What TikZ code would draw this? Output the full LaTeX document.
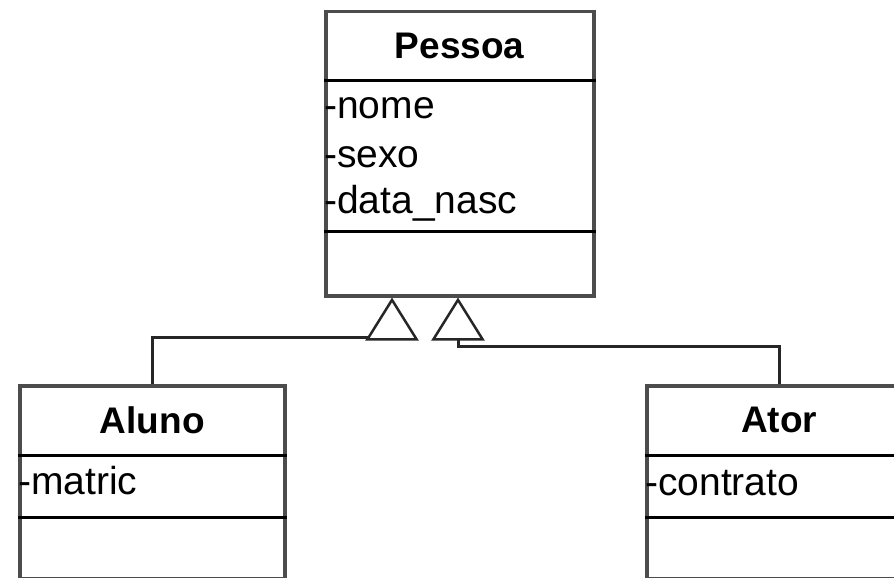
\documentclass[tikz,border=0pt]{standalone}
\usepackage{fontspec}
\setmainfont{Liberation Sans}
\usetikzlibrary{arrows.meta}

\tikzset{
  classe/.style={draw=black!70, line width=3.5pt, inner sep=0pt, anchor=north west},
  divisao/.style={draw=black, line width=3pt},
  titulo/.style={font=\fontsize{37}{40}\selectfont\bfseries, inner sep=0pt},
  atrib/.style={font=\fontsize{39}{42}\selectfont, inner sep=0pt, anchor=base west},
  heranca/.style={draw=black!85, line width=3pt, -{Triangle[fill=white, width=53pt, length=43pt, line width=2.5pt]}}
}

\begin{document}
\begin{tikzpicture}[x=1pt, y=-1pt]
	\useasboundingbox (0,0) rectangle (894,578);
	\clip (0,0) rectangle (894,578);

	% classes
	\node[classe, minimum width=268pt, minimum height=284pt] (pessoa) at (324,10)  {};
	\node[classe, minimum width=265pt, minimum height=193pt] (aluno)  at (18,384)  {};
	\node[classe, minimum width=265pt, minimum height=193pt] (ator)   at (645,384) {};

	\draw[divisao] ([yshift=-70pt]pessoa.north west)  -- ([yshift=-70pt]pessoa.north east);
	\draw[divisao] ([yshift=-221pt]pessoa.north west) -- ([yshift=-221pt]pessoa.north east);
	\draw[divisao] ([yshift=-71pt]aluno.north west)   -- ([yshift=-71pt]aluno.north east);
	\draw[divisao] ([yshift=-133pt]aluno.north west)  -- ([yshift=-133pt]aluno.north east);
	\draw[divisao] ([yshift=-71pt]ator.north west)    -- ([yshift=-71pt]ator.north east);
	\draw[divisao] ([yshift=-133pt]ator.north west)   -- ([yshift=-133pt]ator.north east);

	\node[titulo] (tPessoa) at ([yshift=-36pt]pessoa.north) {Pessoa};
	\node[titulo] (tAluno)  at ([yshift=-36pt]aluno.north)  {Aluno};
	\node[titulo] (tAtor)   at ([yshift=-36pt]ator.north)   {Ator};

	\node[atrib] (nome)      at ([yshift=-108pt]pessoa.north west) {-nome};
	\node[atrib] (sexo)      at ([yshift=-157pt]pessoa.north west) {-sexo};
	\node[atrib] (dataNasc)  at ([yshift=-203pt]pessoa.north west) {-data\_nasc};
	\node[atrib] (matric)    at ([yshift=-110pt]aluno.north west)  {-matric};
	\node[atrib] (contrato)  at ([yshift=-111pt]ator.north west)   {-contrato};

	% generalizacao
	\coordinate (baseA) at (392,337);
	\coordinate (baseB) at (458,346);
	\draw[heranca] (aluno.north) |- (baseA) -- (pessoa.south -| baseA);
	\draw[heranca] (ator.north)  |- (baseB) -- (pessoa.south -| baseB);
\end{tikzpicture}
\end{document}
